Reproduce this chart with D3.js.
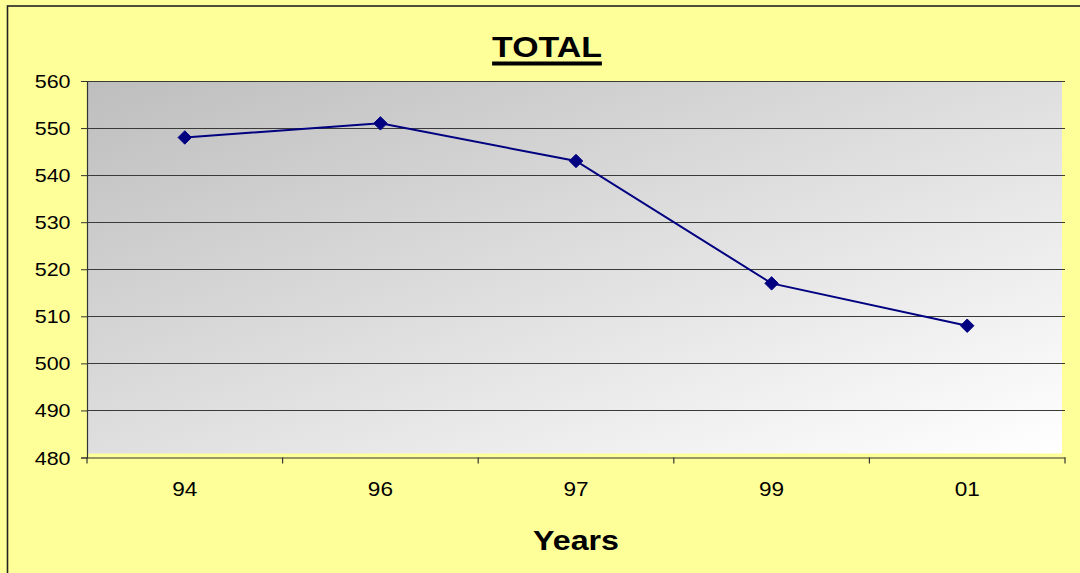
<!DOCTYPE html>
<html>
<head>
<meta charset="utf-8">
<script src="https://cdn.jsdelivr.net/npm/d3@7"></script>
<style>
  html, body { margin: 0; padding: 0; background: #FFFF99; }
  svg { display: block; }
  text { font-family: "Liberation Sans", Arial, sans-serif; fill: #000; }
</style>
</head>
<body>
<svg id="chart" width="1080" height="573"></svg>
<script>
const categories = ["94", "96", "97", "99", "01"];
const values = [548, 551, 543, 517, 508];
const yTicks = [480, 490, 500, 510, 520, 530, 540, 550, 560];
const title = "TOTAL";
const xTitle = "Years";

const W = 1080, H = 573;
const svg = d3.select("#chart");
const plot = { left: 87, right: 1065, top: 81, bottom: 457.5 };
const sx = 1.13; // horizontal text stretch

// background + border
svg.append("rect").attr("x", 0).attr("y", 0).attr("width", W).attr("height", H).attr("fill", "#FFFF99");
svg.append("rect").attr("x", 7.5).attr("y", 6).attr("width", W + 20).attr("height", H + 20)
  .attr("fill", "none").attr("stroke", "#222").attr("stroke-width", 1.6);

const defs = svg.append("defs");
const grad = defs.append("linearGradient").attr("id", "bg")
  .attr("x1", "0").attr("y1", "0").attr("x2", "1").attr("y2", "1");
grad.append("stop").attr("offset", "0%").attr("stop-color", "#bebebe");
grad.append("stop").attr("offset", "100%").attr("stop-color", "#ffffff");

const x = d3.scaleBand().domain(categories).range([plot.left, plot.right]);
const y = d3.scaleLinear().domain([480, 560]).range([plot.bottom, plot.top]);

// plot area fill (slightly inset like the original)
svg.append("rect").attr("x", plot.left).attr("y", plot.top)
  .attr("width", 1062 - plot.left).attr("height", 453.5 - plot.top)
  .attr("fill", "url(#bg)");

// gridlines
svg.append("g").selectAll("line").data(yTicks.filter(t => t > 480)).join("line")
  .attr("x1", plot.left).attr("x2", plot.right)
  .attr("y1", d => Math.round(y(d)) + 0.5).attr("y2", d => Math.round(y(d)) + 0.5)
  .attr("stroke", "#3a3a3a").attr("stroke-width", 1.2);

// y axis
const yAxis = svg.append("g").attr("transform", `translate(${plot.left},0)`)
  .call(d3.axisLeft(y).tickValues(yTicks).tickSize(6).tickPadding(0).tickFormat(d => d));
yAxis.select(".domain").attr("stroke", "#333").attr("stroke-width", 1.2);
yAxis.selectAll(".tick line").attr("stroke", "#333");
yAxis.selectAll(".tick text")
  .attr("x", 0).attr("dy", null).attr("dominant-baseline", "central")
  .style("font-size", "19px").attr("text-anchor", "end")
  .attr("transform", `translate(-16.5,0) scale(${sx},1)`);

// x axis
const xAxis = svg.append("g").attr("transform", `translate(0,${plot.bottom})`)
  .call(d3.axisBottom(x).tickSize(0).tickPadding(0));
xAxis.select(".domain").attr("stroke", "#333").attr("stroke-width", 1.2);
xAxis.selectAll(".tick text").attr("y", 0).attr("dy", null)
  .style("font-size", "20px")
  .attr("transform", `translate(0,38.5) scale(${sx},1)`);
// tick marks at band boundaries
const bounds = categories.map(c => x(c)).concat([x(categories[categories.length - 1]) + x.bandwidth()]);
svg.append("g").selectAll("line").data(bounds).join("line")
  .attr("x1", d => d).attr("x2", d => d)
  .attr("y1", plot.bottom).attr("y2", plot.bottom + 6)
  .attr("stroke", "#333").attr("stroke-width", 1.2);

// line + markers
const cx = c => x(c) + x.bandwidth() / 2;
svg.append("path").datum(values)
  .attr("fill", "none").attr("stroke", "#000080").attr("stroke-width", 2)
  .attr("d", d3.line().x((d, i) => cx(categories[i])).y(d => y(d)));
svg.append("g").selectAll("path").data(values).join("path")
  .attr("d", d3.symbol().type(d3.symbolDiamond2).size(115))
  .attr("transform", (d, i) => `translate(${cx(categories[i])},${y(d)})`)
  .attr("fill", "#000080").attr("stroke", "#000080").attr("stroke-width", 1);

// title with heavy underline
const tg = svg.append("g").attr("transform", `translate(547,56.5) scale(${sx},1)`);
const tt = tg.append("text").attr("text-anchor", "middle")
  .style("font-size", "30px").style("font-weight", "bold").text(title);
const bb = tt.node().getBBox();
tg.append("rect").attr("x", bb.x).attr("y", 5).attr("width", bb.width).attr("height", 4).attr("fill", "#000");

// x axis title
svg.append("text").attr("text-anchor", "middle")
  .attr("transform", `translate(576,549.5) scale(${sx},1)`)
  .style("font-size", "28.5px").style("font-weight", "bold").text(xTitle);
</script>
</body>
</html>
